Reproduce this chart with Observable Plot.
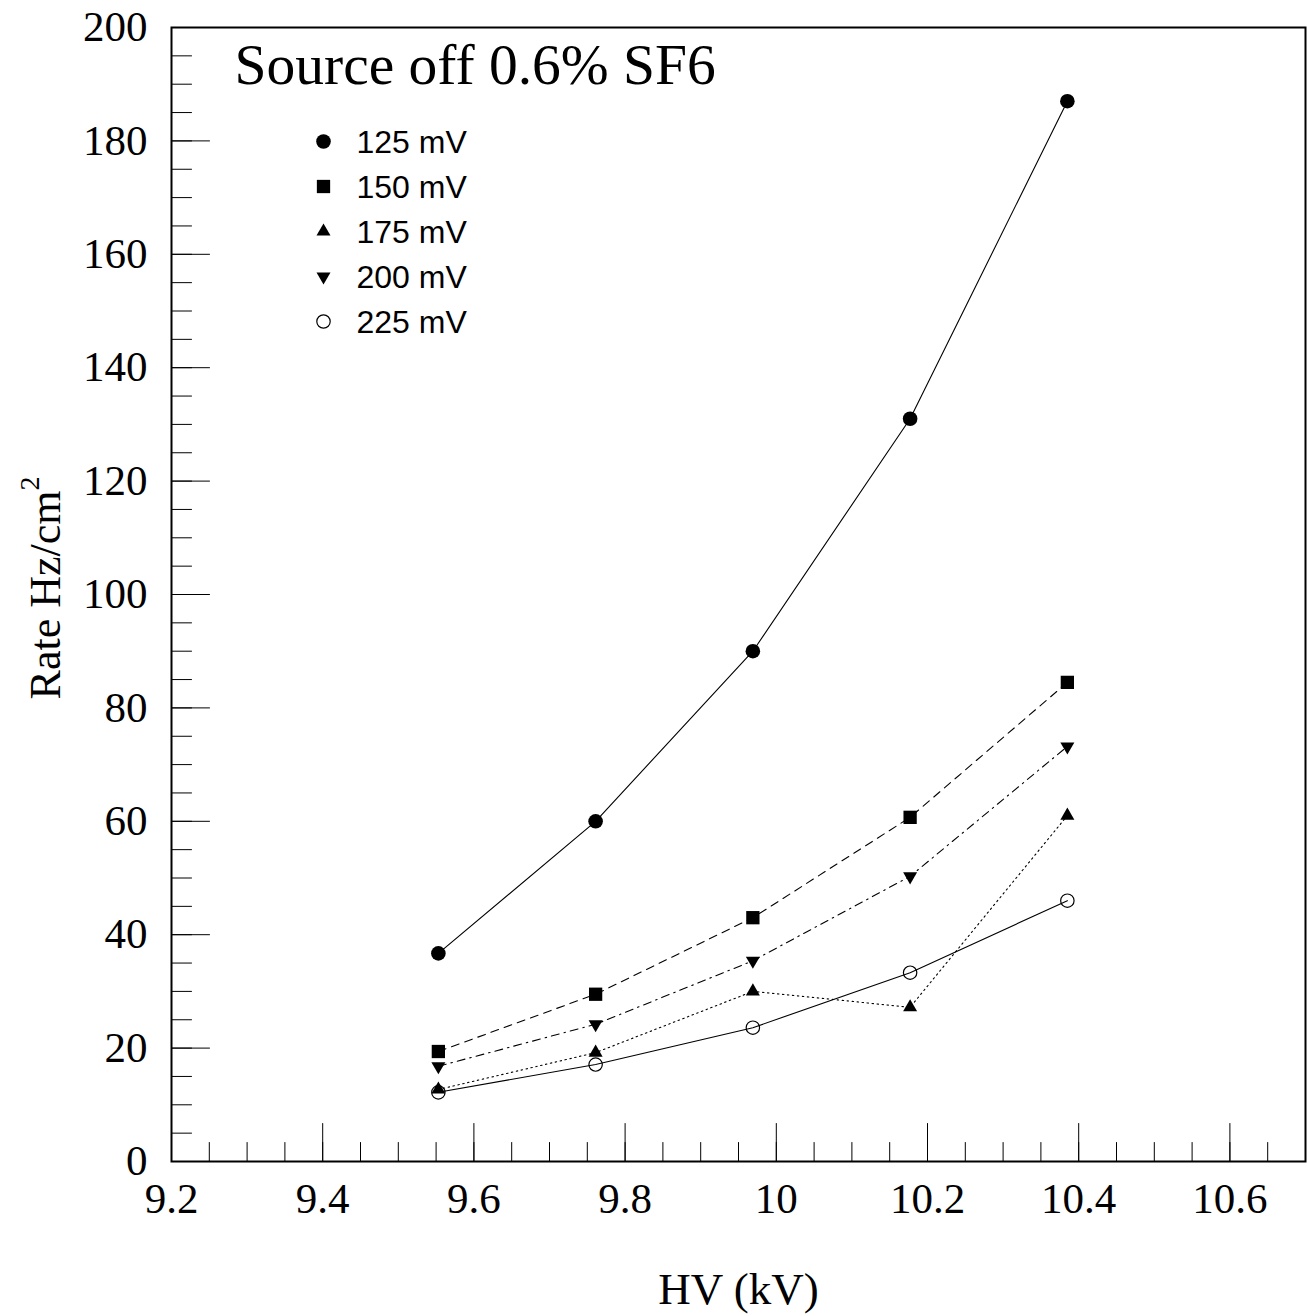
<!DOCTYPE html>
<html><head><meta charset="utf-8">
<script src="https://cdn.jsdelivr.net/npm/d3@7"></script>
<script src="https://cdn.jsdelivr.net/npm/@observablehq/plot@0.6"></script>
<style>html,body{margin:0;padding:0;background:#fff}svg{display:block}</style>
</head><body><div id="chart"></div>
<script>
// ---- data ----
const hv = [9.553, 9.761, 9.969, 10.177, 10.385];
const rate125 = [36.7, 60.0, 90.0, 131.0, 187.0];
const rate150 = [19.4, 29.5, 43.0, 60.7, 84.5];
const rate175 = [12.7, 19.2, 30.0, 27.2, 61.0];
const rate200 = [16.8, 24.2, 35.4, 50.3, 73.2];
const rate225 = [12.2, 17.1, 23.6, 33.3, 46.0];
const seriesLabels = ["125 mV", "150 mV", "175 mV", "200 mV", "225 mV"];
const xTickLabels = [9.2, 9.4, 9.6, 9.8, 10, 10.2, 10.4, 10.6];
const yTickLabels = [0, 20, 40, 60, 80, 100, 120, 140, 160, 180, 200];
const xDomain = [9.2, 10.7];
const yDomain = [0, 200];
const titleText = "Source off 0.6% SF6";
const xLabel = "HV (kV)";

// ---- build ----
const allRates = [rate125, rate150, rate175, rate200, rate225];
const series = allRates.map((r, i) => hv.map((x, j) => ({x, y: r[j], s: seriesLabels[i]})));
const xMinor = d3.range(0, 31).map(i => xDomain[0] + i * 0.05).filter(v => v < xDomain[1] - 1e-9);
const yMinor = d3.range(0, 41).map(i => i * 5);

const styles = [
  {dash: null, symbol: "circle", r: 7.3, fill: "black", stroke: "none", rotate: 0},
  {dash: "8,6", symbol: "square", r: 7.5, fill: "black", stroke: "none", rotate: 0},
  {dash: "1.5,3.5", symbol: "triangle", r: 5.2, fill: "black", stroke: "none", rotate: 0},
  {dash: "8,5,1.5,5", symbol: "triangle", r: 5.2, fill: "black", stroke: "none", rotate: 180},
  {dash: null, symbol: "circle", r: 6.7, fill: "none", stroke: "black", rotate: 0}
];

const tickShape = {draw(context, l) { context.moveTo(0, 0); context.lineTo(0, -l); }};
const serif = "Liberation Serif, Times New Roman, serif";
const sans = "Liberation Sans, Arial, sans-serif";

const marks = [];
// ticks inside frame
marks.push(Plot.vector(xMinor, {x: d => d, y: () => 0, length: 19, rotate: 0, anchor: "start", shape: tickShape, stroke: "black", strokeWidth: 1}));
marks.push(Plot.vector(xTickLabels, {x: d => d, y: () => 0, length: 38, rotate: 0, anchor: "start", shape: tickShape, stroke: "black", strokeWidth: 1}));
marks.push(Plot.vector(yMinor, {x: () => xDomain[0], y: d => d, length: 20, rotate: 90, anchor: "start", shape: tickShape, stroke: "black", strokeWidth: 1}));
marks.push(Plot.vector(yTickLabels, {x: () => xDomain[0], y: d => d, length: 38, rotate: 90, anchor: "start", shape: tickShape, stroke: "black", strokeWidth: 1}));
marks.push(Plot.axisX({ticks: xTickLabels, tickSize: 0, tickPadding: 21, tickFormat: d => String(d), label: null, fontSize: 43, fontFamily: serif}));
marks.push(Plot.axisY({ticks: yTickLabels, tickSize: 0, tickPadding: 24, tickFormat: d => String(d), label: null, fontSize: 43, fontFamily: serif}));

series.forEach((data, i) => {
  const st = styles[i];
  marks.push(Plot.line(data, {x: "x", y: "y", stroke: "black", strokeWidth: 1.1, strokeDasharray: st.dash}));
});
series.forEach((data, i) => {
  const st = styles[i];
  marks.push(Plot.dot(data, {x: "x", y: "y", symbol: st.symbol, r: st.r, fill: st.fill, stroke: st.stroke, strokeWidth: 1.2, rotate: st.rotate}));
  // legend
  marks.push(Plot.dot([seriesLabels[i]], {frameAnchor: "top-left", dx: 152, dy: 114 + i * 45, symbol: st.symbol, r: st.r, fill: st.fill, stroke: st.stroke, strokeWidth: 1.2, rotate: st.rotate}));
  marks.push(Plot.text([seriesLabels[i]], {text: d => d, frameAnchor: "top-left", dx: 185, dy: 115 + i * 45, textAnchor: "start", lineAnchor: "middle", fontFamily: sans, fontSize: 32, letterSpacing: "1px", fill: "black"}));
});
marks.push(Plot.text([titleText], {text: d => d, frameAnchor: "top-left", dx: 63, dy: 56, textAnchor: "start", lineAnchor: "bottom", fontFamily: serif, fontSize: 57.5, fill: "black"}));
marks.push(Plot.text([xLabel], {text: d => d, frameAnchor: "bottom", dy: 142, lineAnchor: "bottom", fontFamily: serif, fontSize: 45, fill: "black"}));
marks.push(Plot.frame({stroke: "black", strokeWidth: 2}));

const chart = Plot.plot({
  width: 1307,
  height: 1316,
  marginTop: 27,
  marginRight: 2,
  marginBottom: 155,
  marginLeft: 171,
  x: {domain: xDomain},
  y: {domain: yDomain},
  style: {background: "white", color: "black", fontFamily: serif},
  marks
});

// rotated y label with superscript
const svg = d3.select(chart);
const t = svg.append("text")
  .attr("transform", "translate(60,588) rotate(-90)")
  .attr("text-anchor", "middle")
  .attr("font-family", serif)
  .attr("font-size", 44)
  .attr("fill", "black");
t.append("tspan").text("Rate Hz/cm");
t.append("tspan").attr("dy", "-0.75em").attr("font-size", 28).text("2");

document.getElementById("chart").appendChild(chart);
</script>
</body></html>
